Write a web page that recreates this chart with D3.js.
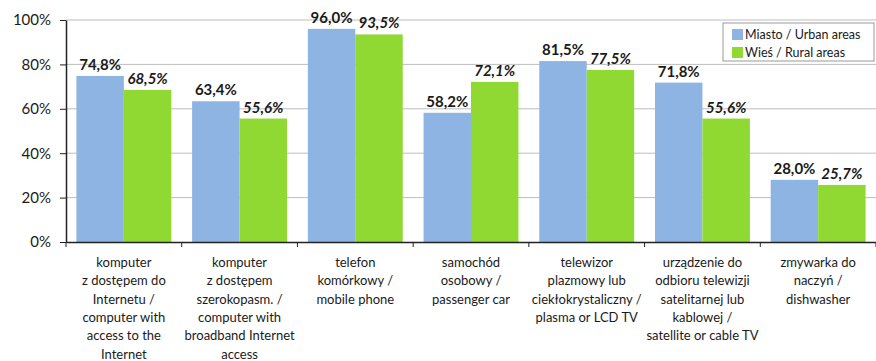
<!DOCTYPE html>
<html>
<head>
<meta charset="utf-8">
<script src="https://cdn.jsdelivr.net/npm/d3@7"></script>
<style>
  body { margin: 0; background: #fff; }
  svg text { font-family: Lato, "Open Sans", sans-serif; fill: #1a1a1a; }
</style>
</head>
<body>
<div class="chart"></div>
<script>
// data
var categories = [
  ["komputer", "z dostępem do", "Internetu /", "computer with", "access to the", "Internet"],
  ["komputer", "z dostępem", "szerokopasm. /", "computer with", "broadband Internet", "access"],
  ["telefon", "komórkowy /", "mobile phone"],
  ["samochód", "osobowy /", "passenger car"],
  ["telewizor", "plazmowy lub", "ciekłokrystaliczny /", "plasma or LCD TV"],
  ["urządzenie do", "odbioru telewizji", "satelitarnej lub", "kablowej /", "satellite or cable TV"],
  ["zmywarka do", "naczyń /", "dishwasher"]
];
var urban = [74.8, 63.4, 96.0, 58.2, 81.5, 71.8, 28.0];
var rural = [68.5, 55.6, 93.5, 72.1, 77.5, 55.6, 25.7];
var seriesNames = ["Miasto / Urban areas", "Wieś / Rural areas"];
var yTicks = [0, 20, 40, 60, 80, 100];

var svgWidth = 876, svgHeight = 361;
var margin = { top: 20, right: 0, bottom: 119, left: 66 };
var width = svgWidth - margin.left - margin.right;
var height = svgHeight - margin.top - margin.bottom;

var colors = ["#8db4e2", "#8fd932"];

var svg = d3.select(".chart").append("svg")
  .attr("width", svgWidth)
  .attr("height", svgHeight);

var chartGroup = svg.append("g")
  .attr("transform", `translate(${margin.left}, ${margin.top})`);

var idx = d3.range(categories.length);

var x0 = d3.scaleBand().domain(idx).range([0, width]).paddingInner(0.18).paddingOuter(0.09);
var x1 = d3.scaleBand().domain([0, 1]).range([0, x0.bandwidth()]);
var y = d3.scaleLinear().domain([0, 100]).range([height, 0]);

// gridlines
chartGroup.append("g").selectAll("line")
  .data(yTicks.filter(d => d > 0))
  .enter().append("line")
  .attr("x1", 0).attr("x2", width)
  .attr("y1", d => y(d)).attr("y2", d => y(d))
  .attr("stroke", "#bdbdbd").attr("stroke-width", 1);

// y axis
var leftAxis = d3.axisLeft(y).tickValues(yTicks).tickFormat(d => d + "%").tickSize(6).tickSizeOuter(0);
var yAxis = chartGroup.append("g").call(leftAxis);
yAxis.select(".domain").attr("stroke", "#222").attr("stroke-width", 1.5);
yAxis.selectAll(".tick line").attr("stroke", "#222");
yAxis.selectAll(".tick text")
  .attr("x", -15)
  .style("font-size", "15px")
  .style("font-family", "Lato, sans-serif")
  .attr("fill", "#1a1a1a");

// bars
var groups = chartGroup.selectAll(".grp")
  .data(idx)
  .enter().append("g")
  .attr("class", "grp")
  .attr("transform", i => `translate(${x0(i)},0)`);

var seriesVals = [urban, rural];

groups.selectAll("rect")
  .data(i => [0, 1].map(s => ({ s: s, v: seriesVals[s][i] })))
  .enter().append("rect")
  .attr("x", d => x1(d.s))
  .attr("width", x1.bandwidth())
  .attr("y", d => y(d.v))
  .attr("height", d => height - y(d.v))
  .attr("fill", d => colors[d.s]);

groups.selectAll(".val")
  .data(i => [0, 1].map(s => ({ s: s, v: seriesVals[s][i] })))
  .enter().append("text")
  .attr("class", "val")
  .attr("x", d => x1(d.s) + x1.bandwidth() / 2)
  .attr("y", d => y(d.v) - 6)
  .attr("text-anchor", "middle")
  .style("font-size", "15px")
  .style("font-weight", "bold")
  .style("font-style", d => d.s === 1 ? "italic" : "normal")
  .text(d => d.v.toFixed(1).replace(".", ",") + "%");

// x axis
var bottomAxis = d3.axisBottom(x0).tickSize(0).tickFormat("");
var xAxis = chartGroup.append("g")
  .attr("transform", `translate(0, ${height})`)
  .call(bottomAxis);
xAxis.select(".domain").attr("stroke", "#222").attr("stroke-width", 1.5);

// tick marks at category boundaries
var step = x0.step();
chartGroup.append("g").selectAll("line")
  .data(d3.range(categories.length + 1))
  .enter().append("line")
  .attr("x1", i => x0(0) - x0.paddingOuter() * step + i * step)
  .attr("x2", i => x0(0) - x0.paddingOuter() * step + i * step)
  .attr("y1", height).attr("y2", height + 5)
  .attr("stroke", "#222");

// category labels
var labels = chartGroup.append("g").selectAll("text")
  .data(idx)
  .enter().append("text")
  .attr("text-anchor", "middle")
  .attr("transform", i => `translate(${x0(i) + x0.bandwidth() / 2}, ${height + 25})`)
  .style("font-size", "13px");

labels.selectAll("tspan")
  .data(i => categories[i])
  .enter().append("tspan")
  .attr("x", 0)
  .attr("dy", (d, k) => k === 0 ? 0 : 18.3)
  .text(d => d);

// legend
var legend = svg.append("g").attr("transform", "translate(723, 23)");
legend.append("rect")
  .attr("width", 151).attr("height", 38)
  .attr("fill", "#fff").attr("stroke", "#999").attr("stroke-width", 1);
var items = legend.selectAll(".item")
  .data(seriesNames)
  .enter().append("g")
  .attr("transform", (d, k) => `translate(9, ${6 + k * 18})`);
items.append("rect")
  .attr("width", 11).attr("height", 11)
  .attr("fill", (d, k) => colors[k]);
items.append("text")
  .attr("x", 13).attr("y", 10)
  .style("font-size", "12.5px")
  .text(d => d);
</script>
</body>
</html>
